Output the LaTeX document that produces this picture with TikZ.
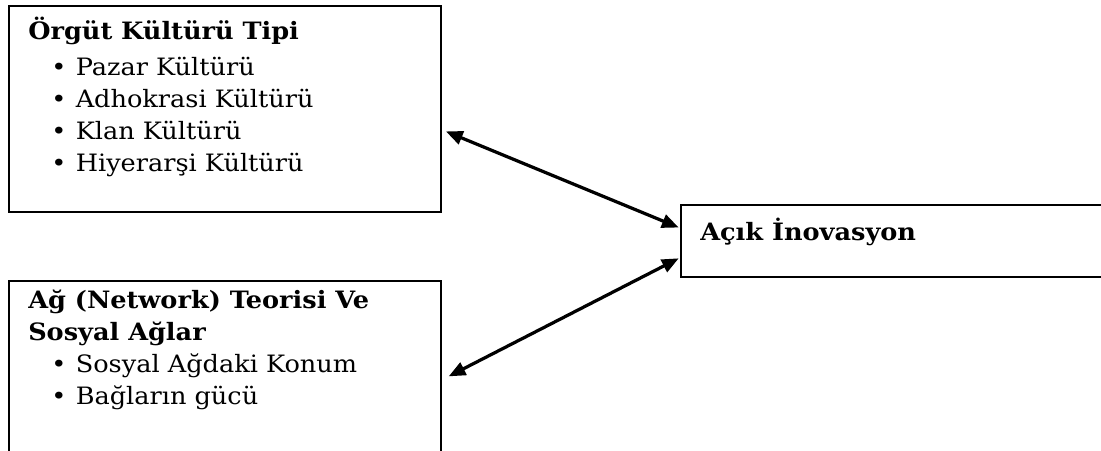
\documentclass[tikz,border=0pt]{standalone}
\usepackage{fontspec}
\setmainfont{DejaVu Serif}[FakeStretch=1.07]
\usetikzlibrary{arrows.meta, positioning}
\definecolor{ink}{HTML}{000000}
\tikzset{
  box/.style={
    rectangle, draw=ink, fill=white, line width=1.2pt,
    anchor=north west, inner sep=0pt
  },
  boxtext/.style={
    anchor=north west, align=left, inner sep=0pt,
    font=\fontsize{17}{22.6}\selectfont
  },
  arrow/.style={{Triangle[length=4.2mm,width=3.4mm]}-{Triangle[length=4.2mm,width=3.4mm]},
    line width=2.3pt, draw=ink, shorten <=1pt, shorten >=1pt},
}
\newcommand{\itm}[1]{\hspace*{0.58cm}•\hspace*{0.23cm}#1}

\begin{document}
\begin{tikzpicture}[x=0.025cm, y=-0.025cm]
  \useasboundingbox (0,0) rectangle (1101,450);
  \clip (0,0) rectangle (1101,450);

  % boxes
  \node[box, minimum width=10.8cm, minimum height=5.15cm] (kultur) at (8,5) {};
  \node[box, minimum width=10.8cm, minimum height=4.8cm] (ag) at (8,280) {};
  \node[box, minimum width=10.6cm, minimum height=1.8cm] (inov) at (680,204) {};

  % texts
  \node[boxtext] (kulturtext) at (28,17) {%
    \textbf{Örgüt Kültürü Tipi}\\[3pt]
    \itm{Pazar Kültürü}\\
    \itm{Adhokrasi Kültürü}\\
    \itm{Klan Kültürü}\\
    \itm{Hiyerarşi Kültürü}};
  \node[boxtext] (agtext) at (28,290) {%
    \textbf{Ağ (Network) Teorisi Ve}\\
    \textbf{Sosyal Ağlar}\\
    \itm{Sosyal Ağdaki Konum}\\
    \itm{Bağların gücü}};
  \node[boxtext] (inovtext) at (700,218) {\textbf{Açık İnovasyon}};

  % connectors
  \draw[arrow] ([xshift=2pt,yshift=-0.55cm]kultur.east) -- ([yshift=0.32cm]inov.west);
  \draw[arrow] ([yshift=-0.42cm]inov.west) -- ([xshift=4pt]ag.east |- 0,377);
\end{tikzpicture}
\end{document}
